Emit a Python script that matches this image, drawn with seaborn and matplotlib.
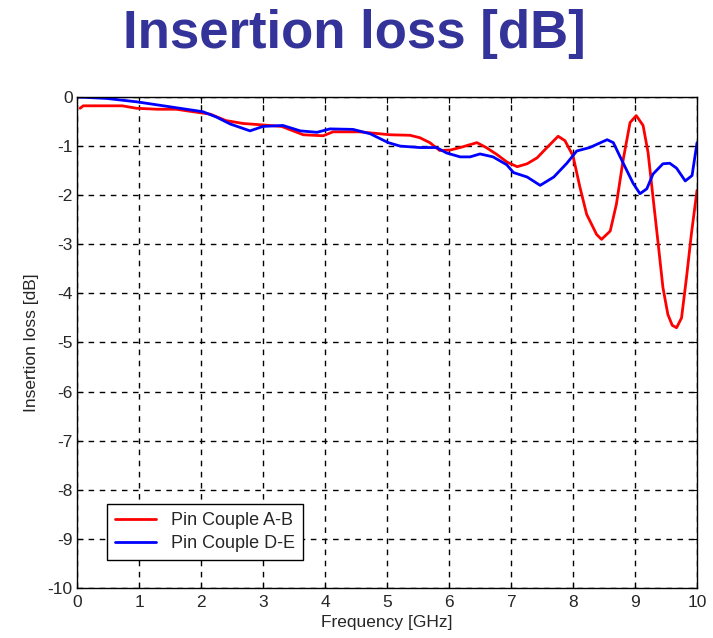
import matplotlib
matplotlib.use("Agg")
import matplotlib.pyplot as plt
import seaborn as sns
import pandas as pd

# ---- data ----
freq_ab = [0.05, 0.1, 0.4, 0.73, 0.96, 1.3, 1.6, 1.87, 2.15, 2.4, 2.68, 3.0, 3.3, 3.65,
           3.97, 4.13, 4.56, 5.05, 5.37, 5.53, 5.69, 5.85, 6.02, 6.18, 6.45, 6.6, 6.77,
           6.94, 7.1, 7.26, 7.42, 7.58, 7.76, 7.87, 8.0, 8.11, 8.22, 8.38, 8.46, 8.6,
           8.7, 8.81, 8.92, 9.02, 9.13, 9.21, 9.29, 9.37, 9.45, 9.53, 9.6, 9.67, 9.75,
           9.83, 9.91, 10.0]
loss_ab = [-0.23, -0.18, -0.18, -0.18, -0.23, -0.25, -0.25, -0.3, -0.35, -0.48, -0.54,
           -0.57, -0.6, -0.77, -0.79, -0.71, -0.71, -0.77, -0.78, -0.83, -0.93, -1.09,
           -1.08, -1.03, -0.93, -1.03, -1.17, -1.33, -1.42, -1.36, -1.24, -1.03, -0.8,
           -0.89, -1.2, -1.83, -2.39, -2.8, -2.9, -2.73, -2.18, -1.27, -0.52, -0.38,
           -0.58, -1.13, -2.04, -2.95, -3.88, -4.43, -4.65, -4.7, -4.5, -3.68, -2.78, -1.9]

freq_de = [0.0, 0.48, 0.97, 1.5, 2.03, 2.25, 2.47, 2.79, 3.0, 3.32, 3.6, 3.87, 4.08,
           4.45, 4.73, 5.02, 5.21, 5.53, 5.8, 5.96, 6.18, 6.34, 6.5, 6.71, 6.93, 7.04,
           7.26, 7.47, 7.69, 7.9, 8.06, 8.27, 8.55, 8.65, 8.81, 8.97, 9.08, 9.19, 9.29,
           9.45, 9.56, 9.67, 9.81, 9.92, 10.0]
loss_de = [0.0, -0.03, -0.1, -0.2, -0.3, -0.41, -0.55, -0.69, -0.6, -0.58, -0.69, -0.72,
           -0.65, -0.66, -0.75, -0.93, -1.0, -1.03, -1.03, -1.14, -1.22, -1.22, -1.16,
           -1.22, -1.38, -1.54, -1.63, -1.8, -1.63, -1.35, -1.1, -1.03, -0.87, -0.93,
           -1.35, -1.76, -1.97, -1.87, -1.57, -1.36, -1.35, -1.45, -1.71, -1.6, -0.93]

series_names = ["Pin Couple A-B", "Pin Couple D-E"]
series_colors = ["#ff0000", "#0000ff"]
x_ticks = list(range(0, 11))
y_ticks = list(range(0, -11, -1))

df = pd.concat([
    pd.DataFrame({"freq": freq_ab, "loss": loss_ab, "series": series_names[0]}),
    pd.DataFrame({"freq": freq_de, "loss": loss_de, "series": series_names[1]}),
], ignore_index=True)

sns.set_style("white")
plt.rcParams["font.family"] = ["Liberation Sans", "DejaVu Sans"]
plt.rcParams["axes.unicode_minus"] = False

fig = plt.figure(figsize=(7.13, 6.38), dpi=100)
ax = fig.add_axes([0.108, 0.0784, 0.8696, 0.7696])

sns.lineplot(data=df, x="freq", y="loss", hue="series", palette=series_colors,
             estimator=None, sort=False, linewidth=2.0, ax=ax)

ax.set_xlim(0, 10)
ax.set_ylim(-10, 0)
ax.set_xticks(x_ticks)
ax.set_yticks(y_ticks)
ax.set_xticklabels([str(v) for v in x_ticks])
ax.set_yticklabels([str(v) for v in y_ticks])
ax.grid(True, color="black", linestyle=(0, (4, 4)), linewidth=1.0)
ax.tick_params(direction="in", length=4, color="black", labelsize=12.5, pad=3,
               top=True, right=True, bottom=True, left=True)
ax.tick_params(axis="x", pad=5)
for s in ax.spines.values():
    s.set_color("black")
    s.set_linewidth(1.0)
ax.set_xlabel("Frequency [GHz]", fontsize=12.5, labelpad=4)
ax.set_ylabel("Insertion loss [dB]", fontsize=12.5, labelpad=6)

leg = ax.legend(loc="lower left", bbox_to_anchor=(0.048, 0.057), borderaxespad=0,
                fontsize=13, frameon=True, fancybox=False, edgecolor="black",
                framealpha=1, handlelength=2.3, handletextpad=0.8,
                borderpad=0.45, labelspacing=0.3)
leg.get_frame().set_linewidth(1.0)

fig.text(0.497, 0.947, "Insertion loss [dB]", ha="center", va="center",
         fontsize=38, fontweight="bold", color="#333399",
         family=["Liberation Sans", "DejaVu Sans"])

fig.savefig("out.png", dpi=100)
